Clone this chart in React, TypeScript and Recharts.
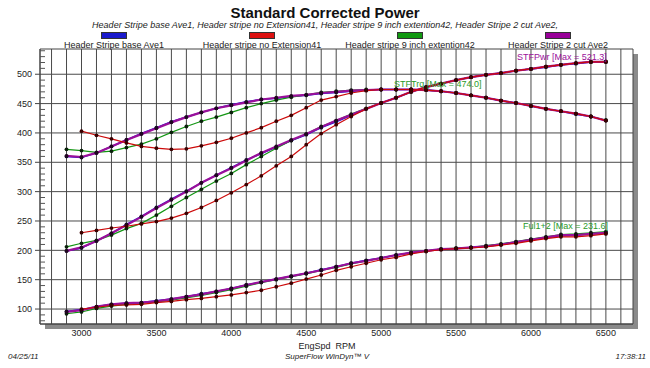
import React from "react"
import { LineChart, Line, XAxis, YAxis, CartesianGrid, ReferenceArea } from "recharts"

// engine speed, one row per 100 rpm
const rpm = [2900, 3000, 3100, 3200, 3300, 3400, 3500, 3600, 3700, 3800, 3900, 4000, 4100, 4200, 4300, 4400, 4500, 4600, 4700, 4800, 4900, 5000, 5100, 5200, 5300, 5400, 5500, 5600, 5700, 5800, 5900, 6000, 6100, 6200, 6300, 6400, 6500]

// Header Stripe base Ave1
const tqAve1 = [360, 358, 366, 377, 388, 399, 409, 419, 427, 435, 442, 448, 453, 457, 459, 462, 464, 467, 469, 471, 473, 474, 474, 474, 473, 471, 468, 464, 460, 455, 451, 446, 441, 437, 432, 428, 421]
const hpAve1 = [199, 204, 216, 229, 244, 258, 273, 287, 301, 315, 328, 341, 354, 365, 376, 387, 397, 409, 419, 430, 441, 451, 460, 470, 478, 484, 490, 495, 499, 502, 506, 509, 512, 516, 518, 521, 521]
const fuelAve1 = [96, 99, 104, 108, 110, 111, 114, 117, 121, 126, 130, 135, 141, 146, 151, 156, 161, 167, 172, 178, 183, 187, 192, 196, 199, 202, 203, 205, 207, 210, 214, 218, 222, 225, 226, 228, 229]

// Header stripe no Extension41 (starts at 3000)
const tqExt41 = [null, 403, 396, 390, 383, 377, 374, 372, 373, 378, 384, 391, 400, 409, 420, 430, 443, 456, 462, 468, 472, 474, 474, 474, 473, 471, 468, 464, 460, 455, 451, 446, 441, 437, 433, 428, 421]
const hpExt41 = [null, 230, 234, 238, 241, 245, 249, 255, 263, 273, 285, 298, 312, 327, 344, 360, 380, 399, 414, 428, 441, 451, 460, 470, 478, 484, 490, 495, 499, 502, 506, 509, 513, 516, 519, 521, 521]
const fuelExt41 = [null, 100, 103, 106, 107, 108, 111, 113, 116, 118, 121, 124, 128, 132, 138, 144, 151, 158, 166, 172, 178, 184, 188, 194, 198, 201, 203, 204, 206, 209, 212, 216, 220, 223, 223, 225, 228]

// Header stripe 9 inch extention42
const tqExt42 = [372, 370, 367, 369, 375, 381, 390, 401, 411, 420, 427, 435, 443, 450, 456, 461, 465, 469, 471, 473, 474, 474, 474, 474, 473, 471, 468, 464, 460, 455, 451, 446, 441, 437, 433, 428, 422]
const hpExt42 = [206, 212, 217, 226, 237, 246, 260, 275, 290, 304, 318, 331, 346, 360, 374, 387, 398, 411, 421, 432, 442, 451, 460, 470, 478, 484, 490, 495, 499, 502, 506, 509, 513, 516, 519, 521, 522]
const fuelExt42 = [92, 95, 101, 105, 108, 110, 112, 115, 119, 123, 128, 133, 139, 145, 150, 155, 160, 166, 171, 177, 182, 187, 192, 196, 199, 202, 204, 205, 208, 211, 215, 219, 223, 227, 228, 230, 232]

// Header Stripe 2 cut Ave2
const tqAve2 = [361, 359, 366, 377, 388, 398, 408, 418, 427, 435, 442, 447, 452, 457, 460, 463, 465, 468, 470, 472, 473, 474, 474, 474, 473, 471, 468, 464, 460, 455, 451, 446, 441, 437, 433, 428, 421]
const hpAve2 = [199, 205, 216, 229, 243, 257, 272, 286, 300, 315, 328, 340, 353, 366, 377, 388, 398, 410, 421, 431, 441, 451, 460, 470, 478, 484, 490, 495, 499, 502, 506, 509, 513, 516, 519, 521, 521]
const fuelAve2 = [95, 98, 104, 108, 110, 111, 113, 117, 121, 125, 130, 135, 141, 146, 151, 156, 161, 166, 172, 178, 182, 187, 192, 196, 199, 202, 203, 205, 207, 210, 214, 218, 222, 226, 226, 228, 230]

const yTicks = [80, 90, 100, 110, 120, 130, 140, 150, 160, 170, 180, 190, 200, 210, 220, 230, 240, 250, 260, 270, 280, 290, 300, 310, 320, 330, 340, 350, 360, 370, 380, 390, 400, 410, 420, 430, 440, 450, 460, 470, 480, 490, 500, 510, 520, 530, 540]
const yGrid = [100, 150, 200, 250, 300, 350, 400, 450, 500]
const xTicks = [2800, 2900, 3000, 3100, 3200, 3300, 3400, 3500, 3600, 3700, 3800, 3900, 4000, 4100, 4200, 4300, 4400, 4500, 4600, 4700, 4800, 4900, 5000, 5100, 5200, 5300, 5400, 5500, 5600, 5700, 5800, 5900, 6000, 6100, 6200, 6300, 6400, 6500, 6600]

const X_MIN = 2723
const X_MAX = 6681
const Y_MIN = 74.5
const Y_MAX = 543
const AXIS_X = 40

const runs = [
  { key: "ave1", name: "Header Stripe base Ave1", color: "#1414e0", swatch: "#1a1acc", dot: "#10102a", width: 1.5, tq: tqAve1, hp: hpAve1, fuel: fuelAve1 },
  { key: "ext42", name: "Header stripe 9 inch extention42", color: "#129612", swatch: "#119911", dot: "#0a200a", width: 1.2, tq: tqExt42, hp: hpExt42, fuel: fuelExt42 },
  { key: "ave2", name: "Header Stripe 2 cut Ave2", color: "#9a109a", swatch: "#990099", dot: "#200520", width: 2.2, tq: tqAve2, hp: hpAve2, fuel: fuelAve2 },
  { key: "ext41", name: "Header stripe no Extension41", color: "#cc0a0a", swatch: "#dd1111", dot: "#3a0000", width: 1.2, tq: tqExt41, hp: hpExt41, fuel: fuelExt41 },
]

const legendOrder = ["ave1", "ext41", "ext42", "ave2"]
const legendX = [114, 262, 410, 558]

const data = rpm.map((r, i) => {
  const row: Record<string, number | null> = { rpm: r }
  runs.forEach((run) => {
    row[run.key + "_tq"] = run.tq[i]
    row[run.key + "_hp"] = run.hp[i]
    row[run.key + "_fuel"] = run.fuel[i]
  })
  return row
})

const font = "'Liberation Sans', Arial, sans-serif"

const YTick = (props: any) => {
  const { y, payload } = props
  const v = payload.value
  if (v % 50 === 0) {
    return (
      <g>
        <line x1={AXIS_X - 5} x2={AXIS_X} y1={y} y2={y} stroke="#444" />
        <text x={AXIS_X - 8} y={y} dy={3.2} textAnchor="end" fontSize={9} fill="#222" fontFamily={font}>{v}</text>
      </g>
    )
  }
  return <line x1={AXIS_X} x2={AXIS_X + 5} y1={y} y2={y} stroke="#555" />
}

const abs = (s: React.CSSProperties): React.CSSProperties => ({ position: "absolute", lineHeight: 1, whiteSpace: "nowrap", ...s })

export default function App() {
  return (
    <div style={{ position: "relative", width: 650, height: 368, background: "#fff", fontFamily: font, color: "#222" }}>
      <style>{`body{margin:0}`}</style>
      <div style={abs({ left: 325, top: 12, transform: "translate(-50%,-50%)", fontSize: 15, fontWeight: "bold", color: "#111" })}>Standard Corrected Power</div>
      <div style={abs({ left: 325, top: 25, transform: "translate(-50%,-50%)", fontSize: 9, fontStyle: "italic" })}>
        Header Stripe base Ave1, Header stripe no Extension41, Header stripe 9 inch extention42, Header Stripe 2 cut Ave2,
      </div>
      {legendOrder.map((k, i) => {
        const run = runs.find((r) => r.key === k)!
        return (
          <React.Fragment key={k}>
            <div style={abs({ left: legendX[i] - 13, top: 32, width: 24, height: 5, background: run.swatch, border: "1px solid #333" })} />
            <div style={abs({ left: legendX[i], top: 44.5, transform: "translate(-50%,-50%)", fontSize: 9 })}>{run.name}</div>
          </React.Fragment>
        )
      })}

      {/* shadow of the plot frame */}
      <div style={abs({ left: 45, top: 324, width: 593, height: 5, background: "#8a8a8a" })} />
      <div style={abs({ left: 633, top: 54, width: 5, height: 275, background: "#8a8a8a" })} />

      <div style={{ position: "absolute", left: 0, top: 0 }}>
        <LineChart width={650} height={368} data={data} margin={{ top: 49, right: 17, bottom: 0, left: 0 }}>
          <CartesianGrid stroke="#4a4a4a" horizontalValues={yGrid} verticalValues={xTicks} />
          <XAxis
            dataKey="rpm"
            type="number"
            domain={[X_MIN, X_MAX]}
            ticks={xTicks}
            interval={0}
            allowDataOverflow
            height={44}
            tickLine={false}
            tickSize={4}
            tickMargin={2}
            axisLine={{ stroke: "#444" }}
            tickFormatter={(v: number) => (v % 500 === 0 ? String(v) : "")}
            tick={{ fontSize: 9, fill: "#222", fontFamily: font }}
          />
          <YAxis
            type="number"
            domain={[Y_MIN, Y_MAX]}
            ticks={yTicks}
            interval={0}
            allowDataOverflow
            width={40}
            tickLine={false}
            axisLine={{ stroke: "#444" }}
            tick={<YTick />}
          />
          <ReferenceArea x1={X_MIN} x2={X_MAX} y1={Y_MIN} y2={Y_MAX} fill="none" stroke="#444" />
          {runs.flatMap((run) =>
            ["tq", "hp", "fuel"].map((q) => (
              <Line
                key={run.key + q}
                dataKey={run.key + "_" + q}
                stroke={run.color}
                strokeWidth={run.width}
                dot={{ r: 1.9, fill: run.dot, stroke: "none" }}
                activeDot={false}
                isAnimationActive={false}
                legendType="none"
              />
            ))
          )}
        </LineChart>
      </div>

      <div style={abs({ left: 517, top: 57, transform: "translateY(-50%)", fontSize: 9, color: "#9a109a" })}>STFPwr [Max = 521.3]</div>
      <div style={abs({ left: 394, top: 84, transform: "translateY(-50%)", fontSize: 9, color: "#2a9a2a" })}>STFTrq [Max = 474.0]</div>
      <div style={abs({ left: 523, top: 226, transform: "translateY(-50%)", fontSize: 9, color: "#2a9a2a" })}>Ful1+2 [Max = 231.6]</div>

      <div style={abs({ left: 327, top: 346, transform: "translate(-50%,-50%)", fontSize: 9 })}>EngSpd&nbsp;&nbsp;RPM</div>
      <div style={abs({ left: 8, top: 357, transform: "translateY(-50%)", fontSize: 8, fontStyle: "italic" })}>04/25/11</div>
      <div style={abs({ left: 327, top: 357, transform: "translate(-50%,-50%)", fontSize: 8, fontStyle: "italic" })}>SuperFlow WinDyn™ V</div>
      <div style={abs({ right: 4, top: 357, transform: "translateY(-50%)", fontSize: 8, fontStyle: "italic" })}>17:38:11</div>
    </div>
  )
}
